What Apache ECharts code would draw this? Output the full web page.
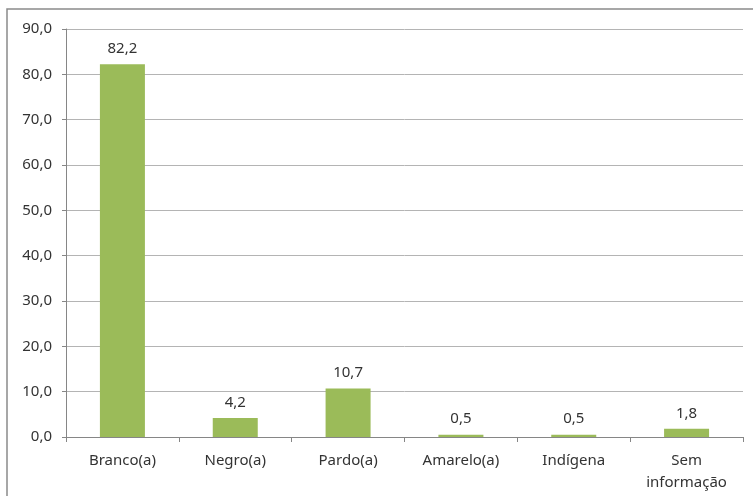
<!DOCTYPE html>
<html>
<head>
<meta charset="utf-8">
<script src="https://cdn.jsdelivr.net/npm/echarts@6/dist/echarts.min.js"></script>
<style>
  html, body { margin: 0; padding: 0; background: #fff; }
  #chart { width: 753px; height: 496px; }
</style>
</head>
<body>
<div id="chart"></div>
<script>
// Distribution by race/colour (%)
const categories = ['Branco(a)', 'Negro(a)', 'Pardo(a)', 'Amarelo(a)', 'Indígena', 'Sem\ninformação'];
const values = [82.2, 4.2, 10.7, 0.5, 0.5, 1.8];
const yMin = 0, yMax = 90, yStep = 10;

const fmt = v => v.toFixed(1).replace('.', ',');
const FONT = '"Noto Sans", sans-serif';

const chart = echarts.init(document.getElementById('chart'));
chart.setOption({
  animation: false,
  textStyle: { fontFamily: FONT },
  graphic: [{
    type: 'rect',
    shape: { x: 7, y: 9, width: 800, height: 600 },
    style: { fill: 'none', stroke: '#8a8a8a', lineWidth: 1.5 },
    silent: true
  }],
  grid: { left: 66, right: 10, top: 29, bottom: 59 },
  xAxis: {
    type: 'category',
    data: categories,
    boundaryGap: true,
    axisLine: { lineStyle: { color: '#868686', width: 1 } },
    axisTick: { show: true, length: 5, alignWithLabel: false, lineStyle: { color: '#868686' } },
    axisLabel: { color: '#333333', fontSize: 15, margin: 13, lineHeight: 22, fontFamily: FONT }
  },
  yAxis: {
    type: 'value',
    min: yMin, max: yMax, interval: yStep,
    axisLine: { show: true, lineStyle: { color: '#868686', width: 1 } },
    axisTick: { show: true, length: 4, lineStyle: { color: '#868686' } },
    splitLine: { lineStyle: { color: '#b4b4b4', width: 1 } },
    axisLabel: { color: '#333333', fontSize: 15, margin: 14, formatter: v => fmt(v), fontFamily: FONT }
  },
  series: [{
    type: 'bar',
    data: values,
    barWidth: 45,
    itemStyle: { color: '#9bbb59' },
    label: {
      show: true, position: 'top', distance: 8,
      color: '#333333', fontSize: 15, fontFamily: FONT,
      formatter: p => fmt(p.value)
    }
  }]
});
</script>
</body>
</html>
